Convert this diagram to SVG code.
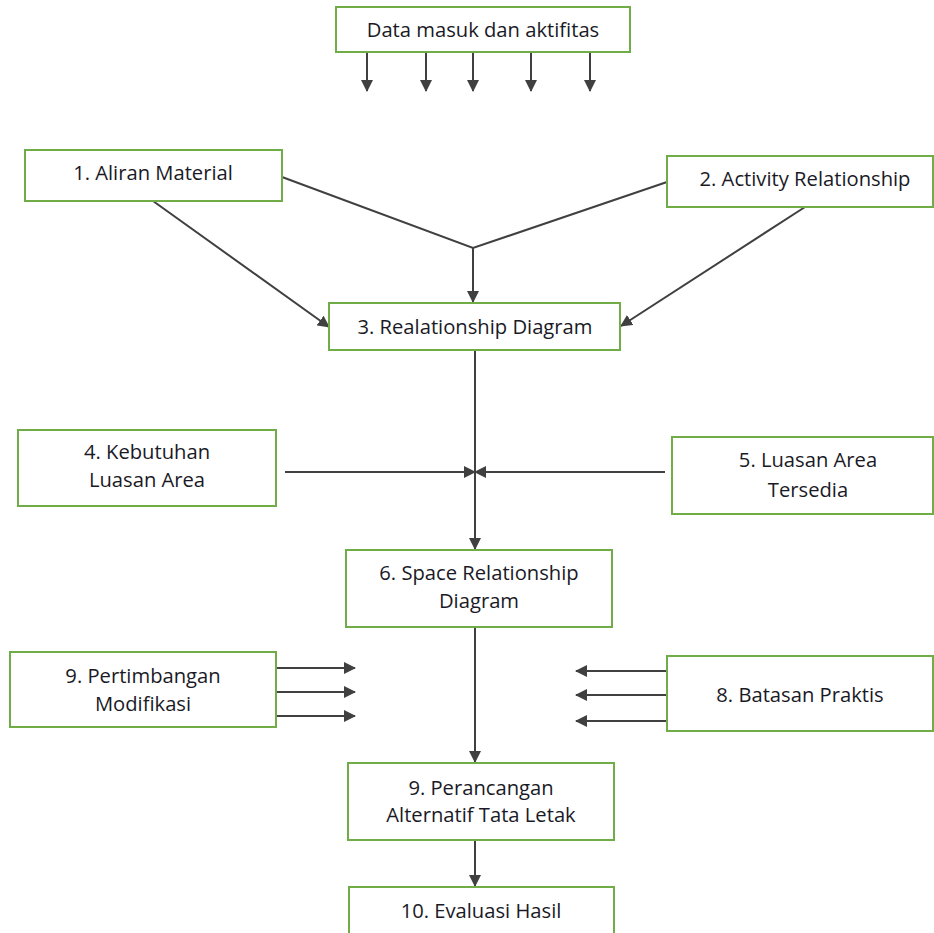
<svg xmlns="http://www.w3.org/2000/svg" width="934" height="933" viewBox="0 0 934 933">
  <style>
    .box { fill: #ffffff; stroke: #70ad47; stroke-width: 2; }
    .lbl { font-family: "Open Sans", "Liberation Sans", Arial, sans-serif; font-size: 20.2px; fill: #1a1a26; text-anchor: middle; }
    .ln { stroke: #404040; stroke-width: 2; fill: none; }
    .arr { stroke: #404040; stroke-width: 2; fill: none; marker-end: url(#head); }
  </style>
  <defs>
    <marker id="head" markerWidth="12" markerHeight="12" refX="11" refY="6" orient="auto" markerUnits="userSpaceOnUse">
      <path d="M0,0 L12,6 L0,12 Z" fill="#404040"/>
    </marker>
  </defs>
  <rect width="934" height="933" fill="#ffffff"/>

  <g id="connectors">
    <!-- inputs from data box -->
    <line class="arr" x1="367" y1="52" x2="367" y2="91"/>
    <line class="arr" x1="426" y1="52" x2="426" y2="91"/>
    <line class="arr" x1="473" y1="52" x2="473" y2="91"/>
    <line class="arr" x1="531" y1="52" x2="531" y2="91"/>
    <line class="arr" x1="590" y1="52" x2="590" y2="91"/>
    <!-- 1 & 2 into 3 -->
    <polyline class="ln" points="282,177 473,248 667,182" stroke-width="1.5"/>
    <line class="arr" x1="473" y1="248" x2="473" y2="302"/>
    <line class="arr" x1="153" y1="201" x2="329" y2="327"/>
    <line class="arr" x1="805" y1="207" x2="621" y2="326"/>
    <!-- 3 to 6 with 4 and 5 -->
    <line class="arr" x1="475" y1="350" x2="475" y2="549"/>
    <line class="arr" x1="285" y1="472" x2="475" y2="472"/>
    <line class="arr" x1="665" y1="472" x2="475" y2="472"/>
    <!-- 6 to 9 with side inputs -->
    <line class="arr" x1="475" y1="627" x2="475" y2="762"/>
    <line class="arr" x1="276" y1="668" x2="355" y2="668"/>
    <line class="arr" x1="276" y1="692" x2="355" y2="692"/>
    <line class="arr" x1="276" y1="716" x2="355" y2="716"/>
    <line class="arr" x1="667" y1="671" x2="576" y2="671"/>
    <line class="arr" x1="667" y1="695" x2="576" y2="695"/>
    <line class="arr" x1="667" y1="721" x2="576" y2="721"/>
    <!-- 9 to 10 -->
    <line class="arr" x1="475" y1="840" x2="475" y2="886"/>
  </g>

  <g id="data-input">
    <rect class="box" x="336" y="7" width="294" height="45"/>
    <text class="lbl" x="483" y="37">Data masuk dan aktifitas</text>
  </g>
  <g id="n1">
    <rect class="box" x="25" y="150" width="257" height="51"/>
    <text class="lbl" x="153" y="180">1. Aliran Material</text>
  </g>
  <g id="n2">
    <rect class="box" x="667" y="156" width="266" height="51"/>
    <text class="lbl" x="805" y="186">2. Activity Relationship</text>
  </g>
  <g id="n3">
    <rect class="box" x="329" y="303" width="291" height="47"/>
    <text class="lbl" x="475" y="334">3. Realationship Diagram</text>
  </g>
  <g id="n4">
    <rect class="box" x="18" y="430" width="258" height="76"/>
    <text class="lbl" x="147" y="459">4. Kebutuhan</text>
    <text class="lbl" x="147" y="487">Luasan Area</text>
  </g>
  <g id="n5">
    <rect class="box" x="672" y="437" width="261" height="77"/>
    <text class="lbl" x="808" y="467">5. Luasan Area</text>
    <text class="lbl" x="808" y="497">Tersedia</text>
  </g>
  <g id="n6">
    <rect class="box" x="346" y="550" width="266" height="77"/>
    <text class="lbl" x="479" y="580">6. Space Relationship</text>
    <text class="lbl" x="479" y="608">Diagram</text>
  </g>
  <g id="n9a">
    <rect class="box" x="10" y="652" width="266" height="75"/>
    <text class="lbl" x="143" y="683">9. Pertimbangan</text>
    <text class="lbl" x="143" y="711">Modifikasi</text>
  </g>
  <g id="n8">
    <rect class="box" x="667" y="656" width="266" height="75"/>
    <text class="lbl" x="800" y="702">8. Batasan Praktis</text>
  </g>
  <g id="n9b">
    <rect class="box" x="348" y="763" width="266" height="77"/>
    <text class="lbl" x="481" y="795">9. Perancangan</text>
    <text class="lbl" x="481" y="822">Alternatif Tata Letak</text>
  </g>
  <g id="n10">
    <rect class="box" x="349" y="887" width="265" height="50"/>
    <text class="lbl" x="481" y="918">10. Evaluasi Hasil</text>
  </g>
</svg>
